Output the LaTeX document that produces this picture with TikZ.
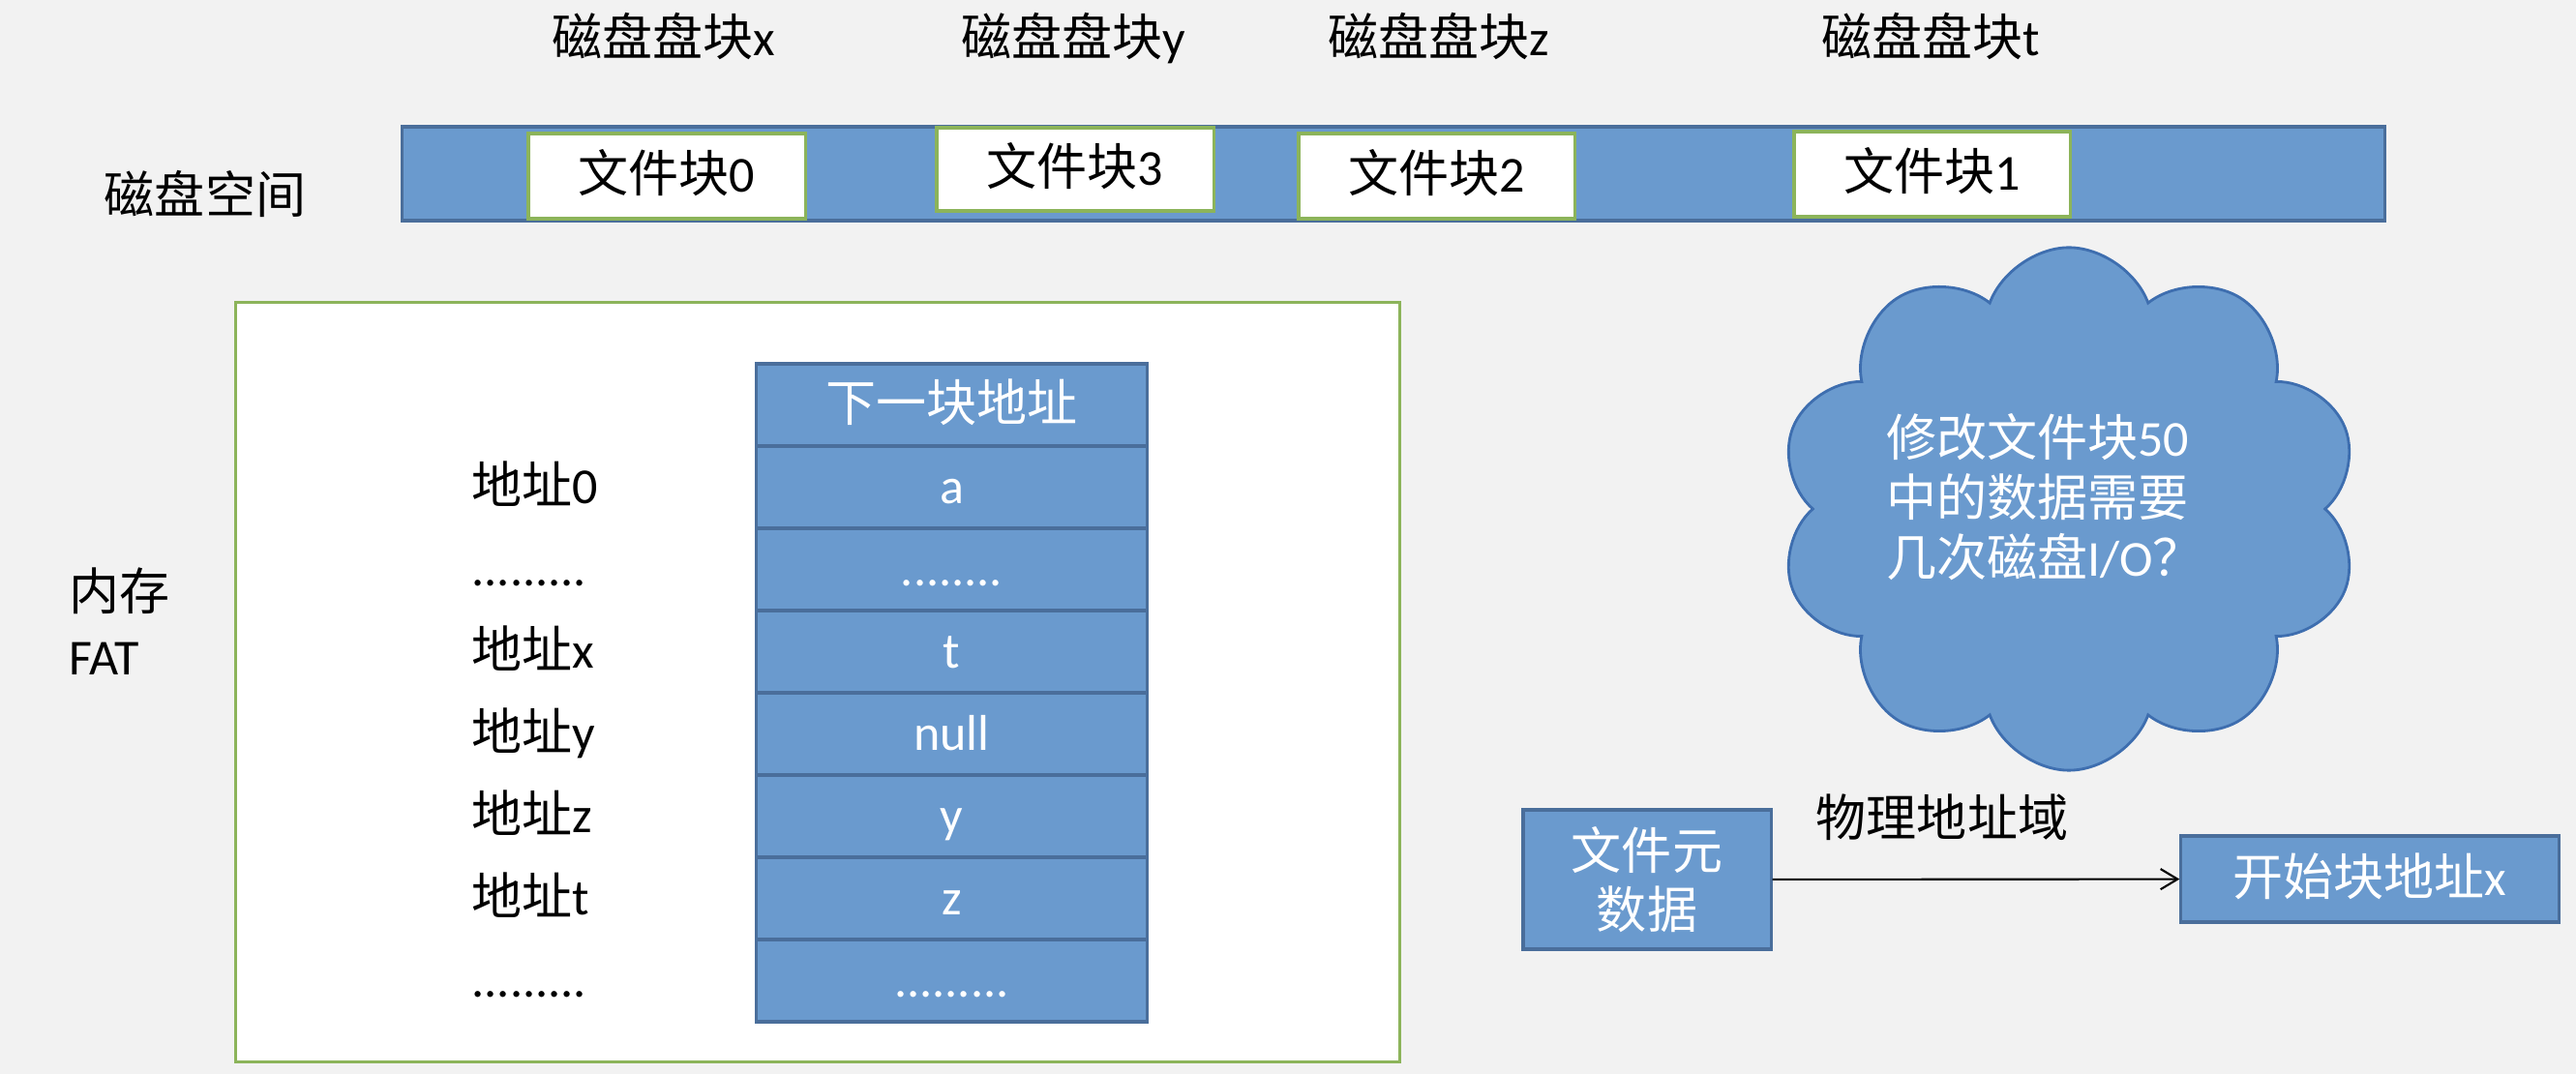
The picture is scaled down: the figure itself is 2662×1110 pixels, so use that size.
\documentclass[tikz,border=0pt]{standalone}
\usepackage{fontspec}
\setmainfont{Carlito}
\newfontfamily\cjk{Noto Sans CJK SC}
\newcommand{\zh}[1]{{\cjk #1}}
\usetikzlibrary{shapes.symbols,arrows.meta}
\definecolor{bgcol}{RGB}{242,242,242}
\definecolor{fillblue}{RGB}{106,154,206}
\definecolor{edgeblue}{RGB}{74,110,155}
\definecolor{cloudedge}{RGB}{62,110,175}
\definecolor{boxgreen}{RGB}{140,180,90}
\begin{document}
\begin{tikzpicture}[x=0.01cm,y=-0.01cm,
  font=\fontsize{14.8pt}{18pt}\selectfont,
  txt/.style={inner sep=0pt,text height=0.98em,text depth=0.02em},
  bluebox/.style={draw=edgeblue,fill=fillblue,line width=0.9pt,text=white,inner sep=0pt,text height=0.98em,text depth=0.02em},
  fblock/.style={draw=boxgreen,fill=white,line width=0.9pt,inner sep=0pt,text height=0.98em,text depth=0.02em},
  cell/.style={bluebox,minimum width=4.03cm,minimum height=0.85cm},
  addr/.style={txt,anchor=west}
]
\useasboundingbox (0,0) rectangle (2662,1110);
\fill[bgcol] (0,0) rectangle (2662,1110);

% top labels
\node[txt] (hx) at (686,41) {\zh{磁盘盘块}x};
\node[txt] (hy) at (1109,41) {\zh{磁盘盘块}y};
\node[txt] (hz) at (1487,41) {\zh{磁盘盘块}z};
\node[txt] (ht) at (1995,41) {\zh{磁盘盘块}t};
\node[txt] (space) at (212,204) {\zh{磁盘空间}};

% disk bar
\node[bluebox,minimum width=20.48cm,minimum height=0.97cm] (bar) at (1440,179.5) {};
\node[fblock,minimum width=2.86cm,minimum height=0.88cm] (fb0) at (689,182) {\zh{文件块}0};
\node[fblock,minimum width=2.86cm,minimum height=0.86cm] (fb3) at (1111,175) {\zh{文件块}3};
\node[fblock,minimum width=2.85cm,minimum height=0.88cm] (fb2) at (1484.5,182) {\zh{文件块}2};
\node[fblock,minimum width=2.85cm,minimum height=0.88cm] (fb1) at (1996.5,180) {\zh{文件块}1};

% memory FAT
\node[draw=boxgreen,fill=white,line width=0.9pt,minimum width=12.02cm,minimum height=7.84cm] (mem) at (845,705) {};
\node[addr] (memlbl) at (71,614) {\zh{内存}};
\node[addr] (fatlbl) at (71,681) {FAT};

\node[cell] (r0) at (983.5,418.5) {\zh{下一块地址}};
\node[cell] (r1) at (983.5,503.5) {a};
\node[cell] (r2) at (983.5,588.5) {........};
\node[cell] (r3) at (983.5,673.5) {t};
\node[cell] (r4) at (983.5,758.5) {null};
\node[cell] (r5) at (983.5,843.5) {y};
\node[cell] (r6) at (983.5,928.5) {z};
\node[cell] (r7) at (983.5,1013.5) {.........};

\node[addr] (a1) at (487,503.5) {\zh{地址}0};
\node[addr] (a2) at (487,588.5) {.........};
\node[addr] (a3) at (487,673.5) {\zh{地址}x};
\node[addr] (a4) at (487,758.5) {\zh{地址}y};
\node[addr] (a5) at (487,843.5) {\zh{地址}z};
\node[addr] (a6) at (487,928.5) {\zh{地址}t};
\node[addr] (a7) at (487,1013.5) {.........};

% cloud
\node[cloud,cloud puffs=10,cloud puff arc=140,aspect=1.1,draw=cloudedge,fill=fillblue,line width=0.8pt,minimum width=6.0cm,minimum height=5.4cm,inner sep=0pt] (cloud) at (2138,526) {};
\node[text=white,align=left,inner sep=0pt,font=\fontsize{14.8pt}{17.6pt}\selectfont] (q) at (2113,514) {\zh{修改文件块}50\\\zh{中的数据需要}\\\zh{几次磁盘}I/O\zh{？}};

% bottom right
\node[bluebox,minimum width=2.56cm,minimum height=1.44cm,align=center,text height=,text depth=,font=\fontsize{14.8pt}{17.3pt}\selectfont] (meta) at (1702,909) {\zh{文件元}\\\zh{数据}};
\node[bluebox,minimum width=3.90cm,minimum height=0.89cm] (start) at (2449,908.5) {\zh{开始块地址}x};
\draw[line width=0.6pt,-{Straight Barb[length=5pt,width=6pt]}] (meta) -- (start);
\node[txt] (phys) at (2007,848) {\zh{物理地址域}};
\end{tikzpicture}
\end{document}
